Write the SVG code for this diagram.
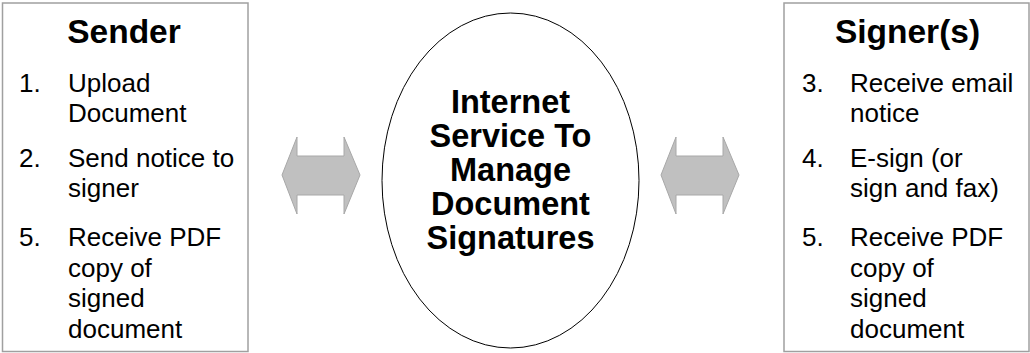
<svg xmlns="http://www.w3.org/2000/svg" width="1030" height="353" viewBox="0 0 1030 353">
<style>
.box{fill:#fff;stroke:#a0a0a0;stroke-width:1.5}
.ell{fill:#fff;stroke:#000;stroke-width:1}
.arr{fill:#c0c0c0;stroke:#a8a8a8;stroke-width:1}
.h{font-family:"Liberation Sans",Arial,sans-serif;font-weight:bold;font-size:33.5px;fill:#000;text-anchor:middle}
.c{font-family:"Liberation Sans",Arial,sans-serif;font-weight:bold;font-size:32.5px;fill:#000;text-anchor:middle}
.t{font-family:"Liberation Sans",Arial,sans-serif;font-size:26px;fill:#000}
</style>
<rect width="1030" height="353" fill="#fff"/>
<g id="connectors">
<polygon class="arr" points="282,175 297,137 297,156 344,156 344,137 360,175 344,214 344,195 297,195 297,214"/>
<polygon class="arr" points="661,175 676,137 676,156 723,156 723,137 739,175 723,214 723,195 676,195 676,214"/>
</g>
<g id="sender">
<rect class="box" x="2.5" y="3" width="245.5" height="348.5"/>
<text class="h" x="124" y="43">Sender</text>
<text class="t"><tspan x="19" y="92">1.</tspan><tspan x="68" y="92">Upload</tspan><tspan x="68" y="122">Document</tspan>
<tspan x="19" y="167">2.</tspan><tspan x="68" y="167">Send notice to</tspan><tspan x="68" y="197">signer</tspan>
<tspan x="19" y="246">5.</tspan><tspan x="68" y="246">Receive PDF</tspan><tspan x="68" y="276.5">copy of</tspan><tspan x="68" y="307">signed</tspan><tspan x="68" y="338">document</tspan></text>
</g>
<g id="service">
<ellipse class="ell" cx="510.5" cy="180.5" rx="128.5" ry="167.5"/>
<text class="c"><tspan x="510.5" y="113">Internet</tspan><tspan x="510.5" y="147">Service To</tspan><tspan x="510.5" y="181">Manage</tspan><tspan x="510.5" y="215">Document</tspan><tspan x="510.5" y="249">Signatures</tspan></text>
</g>
<g id="signers">
<rect class="box" x="784" y="3" width="245" height="348.5"/>
<text class="h" x="907.5" y="43">Signer(s)</text>
<text class="t"><tspan x="802" y="92">3.</tspan><tspan x="850" y="92">Receive email</tspan><tspan x="850" y="122">notice</tspan>
<tspan x="802" y="167">4.</tspan><tspan x="850" y="167">E-sign (or</tspan><tspan x="850" y="197">sign and fax)</tspan>
<tspan x="802" y="246">5.</tspan><tspan x="850" y="246">Receive PDF</tspan><tspan x="850" y="276.5">copy of</tspan><tspan x="850" y="307">signed</tspan><tspan x="850" y="338">document</tspan></text>
</g>
</svg>
